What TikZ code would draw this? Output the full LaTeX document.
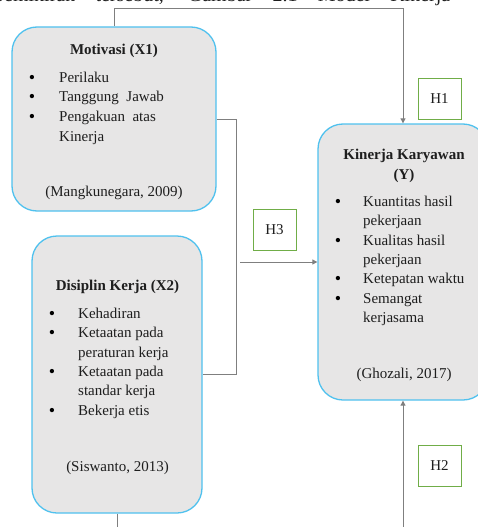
\documentclass[tikz,border=0pt]{standalone}
\usepackage{fontspec}
\setmainfont{Liberation Serif}
\usetikzlibrary{arrows.meta}
\definecolor{boxfill}{HTML}{E7E6E6}
\definecolor{boxline}{HTML}{4FC1EE}
\definecolor{hline}{HTML}{70AD47}
\definecolor{connc}{HTML}{7F7F7F}
\definecolor{txtc}{HTML}{1E1E1E}
\begin{document}
\begin{tikzpicture}[x=1pt,y=-1pt,
  varbox/.style={draw=boxline, fill=boxfill, line width=1.3pt, rounded corners=25pt, inner sep=0pt},
  hbox/.style={draw=hline, line width=0.9pt, minimum width=43pt, minimum height=41pt, inner sep=0pt, font=\fontsize{15}{17}\selectfont, text=txtc},
  conn/.style={draw=connc, line width=0.9pt},
  arr/.style={conn, -{Triangle[length=5pt,width=5pt]}},
  txt/.style={font=\fontsize{15}{17}\selectfont, text=txtc, inner sep=0pt, anchor=base west},
  ctxt/.style={font=\fontsize{15}{17}\selectfont, text=txtc, inner sep=0pt, anchor=base},
  ttl/.style={font=\fontsize{15}{17}\selectfont\bfseries, text=txtc, inner sep=0pt, anchor=base},
  bul/.style={font=\fontsize{18}{18}\selectfont, text=black, inner sep=0pt, anchor=base}]
\useasboundingbox (0,0) rectangle (478,527);
\clip (0,0) rectangle (478,527);

% partial text line at the top (cut off by the page edge)
\node[anchor=base west, inner sep=0pt, font=\fontsize{20}{24}\selectfont, text=txtc] (toptext) at (-6,1.5)
  {\makebox[456pt][s]{pemikiran tersebut, Gambar 2.1 Model Kinerja}};

% boxes
\node[varbox, minimum width=204pt, minimum height=184pt] (x1) at (114,119) {};
\node[varbox, minimum width=170pt, minimum height=277pt] (x2) at (117,374.5) {};
\node[varbox, minimum width=170pt, minimum height=276pt] (y) at (403,262) {};

% X1 content
\node[ttl] (x1t) at (114,55) {Motivasi (X1)};
\node[bul] (x1b1) at (32,83) {\textbullet};
\node[bul] (x1b2) at (32,102.5) {\textbullet};
\node[bul] (x1b3) at (32,122) {\textbullet};
\node[txt] (x1l1) at (59,82) {Perilaku};
\node[txt] (x1l2) at (59,101.5) {Tanggung\ \ Jawab};
\node[txt] (x1l3) at (59,121) {Pengakuan\ \ atas};
\node[txt] (x1l4) at (59,141) {Kinerja};
\node[ctxt] (x1c) at (114,196) {(Mangkunegara,\ 2009)};

% X2 content
\node[ttl] (x2t) at (117.5,290) {Disiplin Kerja (X2)};
\node[bul] (x2b1) at (52,319) {\textbullet};
\node[bul] (x2b2) at (52,338.5) {\textbullet};
\node[bul] (x2b3) at (52,377.5) {\textbullet};
\node[bul] (x2b4) at (52,416) {\textbullet};
\node[txt] (x2l1) at (78,318) {Kehadiran};
\node[txt] (x2l2) at (78,337.5) {Ketaatan\ pada};
\node[txt] (x2l3) at (78,357) {peraturan\ kerja};
\node[txt] (x2l4) at (78,376.5) {Ketaatan\ pada};
\node[txt] (x2l5) at (78,395.5) {standar\ kerja};
\node[txt] (x2l6) at (78,415) {Bekerja etis};
\node[ctxt] (x2c) at (117.5,471.5) {(Siswanto,\ 2013)};

% Y content
\node[ttl] (yt1) at (404,159) {Kinerja Karyawan};
\node[ttl] (yt2) at (404,179) {(Y)};
\node[bul] (yb1) at (338,207) {\textbullet};
\node[bul] (yb2) at (338,246.5) {\textbullet};
\node[bul] (yb3) at (338,284.5) {\textbullet};
\node[bul] (yb4) at (338,304) {\textbullet};
\node[txt] (yl1) at (363,206) {Kuantitas\ hasil};
\node[txt] (yl2) at (363,225.5) {pekerjaan};
\node[txt] (yl3) at (363,245.5) {Kualitas\ hasil};
\node[txt] (yl4) at (363,264.5) {pekerjaan};
\node[txt] (yl5) at (363,283.5) {Ketepatan\ waktu};
\node[txt] (yl6) at (363,303) {Semangat};
\node[txt] (yl7) at (363,322) {kerjasama};
\node[ctxt] (yc) at (404,378.5) {(Ghozali,\ 2017)};

% hypothesis boxes
\node[hbox] (h1) at (439.5,99) {H1};
\node[hbox] (h3) at (274.5,230) {H3};
\node[hbox] (h2) at (439.5,465.5) {H2};

% helper coordinates
\coordinate (ttop) at (0,8);
\coordinate (bus) at (236,0);
\coordinate (h3s) at (240,262);
\coordinate (bot) at (0,527);

% connectors
\draw[arr] (x1.north) -- (x1.north |- ttop) -- (y.north |- ttop) -- (y.north);
\draw[conn] (x1.east) -- (x1.east -| bus) -- (x2.east -| bus) -- (x2.east);
\draw[arr] (h3s) -- (h3s -| y.west);
\draw[arr] (y.south |- bot) -- (y.south);
\draw[conn] (x2.south) -- (x2.south |- bot);
\end{tikzpicture}
\end{document}
